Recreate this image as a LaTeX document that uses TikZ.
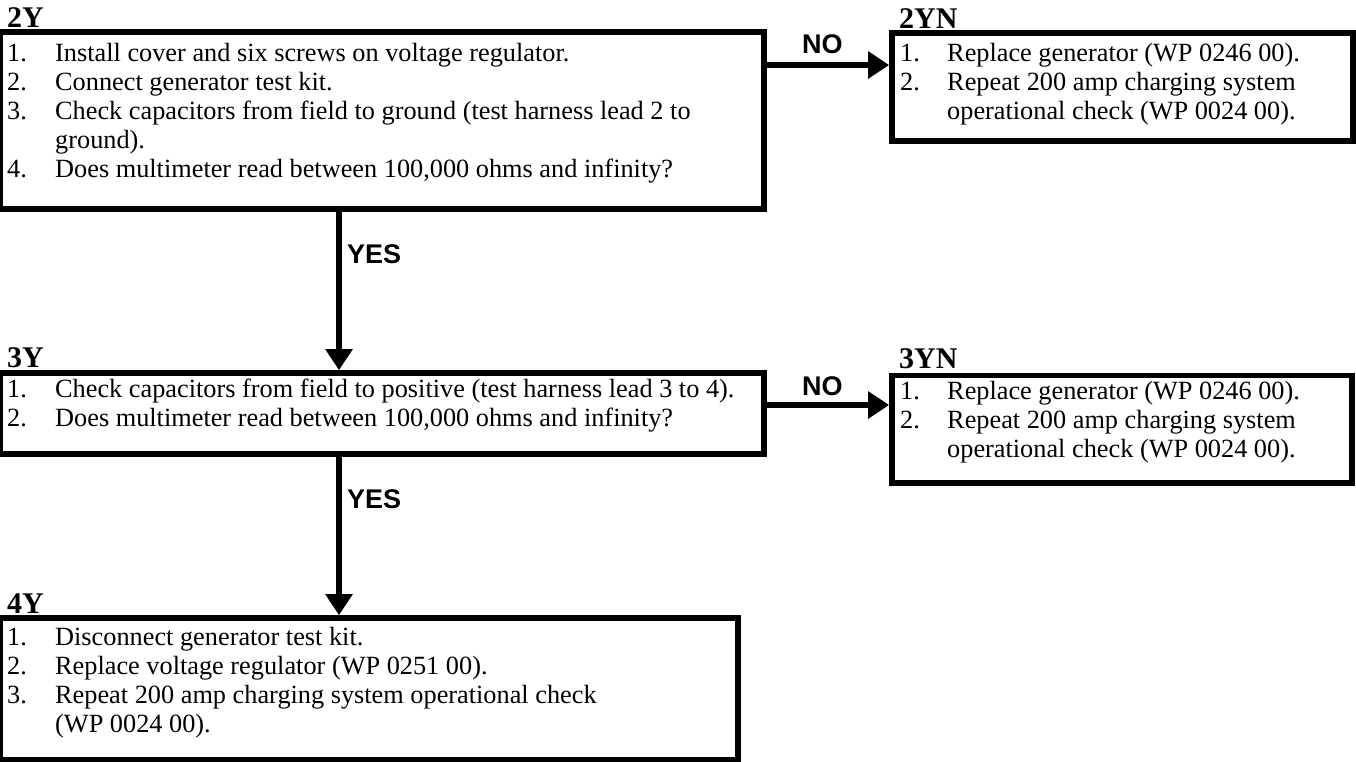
\documentclass[tikz,border=0pt]{standalone}
\usepackage{fontspec}
\setmainfont{Liberation Serif}
\newfontfamily\lblfont{Liberation Sans}
\usetikzlibrary{arrows.meta}
\begin{document}
\begin{tikzpicture}[x=1pt,y=-1pt,
  box/.style={draw, line width=5.6pt, inner sep=0pt},
  body/.style={inner sep=0pt, anchor=base west, font=\fontsize{26.3}{29}\selectfont},
  steptitle/.style={inner sep=0pt, anchor=base west, font=\fontsize{30}{36}\selectfont\bfseries},
  lbl/.style={inner sep=0pt, anchor=base west, font=\lblfont\fontsize{27}{32}\selectfont\bfseries},
  arr/.style={line width=5.6pt, -{Triangle[length=21pt,width=26pt]}}]
\useasboundingbox (0,0) rectangle (1356,761);

% boxes
\node[box, minimum width=763.5pt, minimum height=177pt] (b2Y) at (382.25,120.5) {};
\node[box, minimum width=461pt, minimum height=108pt] (b2YN) at (1122.5,87) {};
\node[box, minimum width=763.5pt, minimum height=81pt] (b3Y) at (382.25,413.5) {};
\node[box, minimum width=460pt, minimum height=107.5pt] (b3YN) at (1122,429.25) {};
\node[box, minimum width=737.5pt, minimum height=141.5pt] (b4Y) at (369.25,688.75) {};

% titles
\node[steptitle] (h2Y) at (7,27) {2Y};
\node[steptitle] (h2YN) at (899,28) {2YN};
\node[steptitle] (h3Y) at (7,367) {3Y};
\node[steptitle] (h3YN) at (899,368) {3YN};
\node[steptitle] (h4Y) at (7,613) {4Y};

% texts
\node[body] (t2Y) at (7,61) {\begin{tabular}[t]{@{}p{48pt}@{}l@{}}
1. & Install cover and six screws on voltage regulator.\\
2. & Connect generator test kit.\\
3. & Check capacitors from field to ground (test harness lead 2 to\\
   & ground).\\
4. & Does multimeter read between 100,000 ohms and infinity?
\end{tabular}};
\node[body] (t2YN) at (900,61) {\begin{tabular}[t]{@{}p{47pt}@{}l@{}}
1. & Replace generator (WP 0246 00).\\
2. & Repeat 200 amp charging system\\
   & operational check (WP 0024 00).
\end{tabular}};
\node[body] (t3Y) at (7,397) {\begin{tabular}[t]{@{}p{48pt}@{}l@{}}
1. & Check capacitors from field to positive (test harness lead 3 to 4).\\
2. & Does multimeter read between 100,000 ohms and infinity?
\end{tabular}};
\node[body] (t3YN) at (900,399) {\begin{tabular}[t]{@{}p{47pt}@{}l@{}}
1. & Replace generator (WP 0246 00).\\
2. & Repeat 200 amp charging system\\
   & operational check (WP 0024 00).
\end{tabular}};
\node[body] (t4Y) at (7,645) {\begin{tabular}[t]{@{}p{48pt}@{}l@{}}
1. & Disconnect generator test kit.\\
2. & Replace voltage regulator (WP 0251 00).\\
3. & Repeat 200 amp charging system operational check\\
   & (WP 0024 00).
\end{tabular}};

% connectors
\draw[arr] (b2Y.east |- 0,65) -- (b2YN.west |- 0,65);
\draw[arr] (b2Y.south -| 339,0) -- (b3Y.north -| 339,0);
\draw[arr] (b3Y.east |- 0,405) -- (b3YN.west |- 0,405);
\draw[arr] (b3Y.south -| 339,0) -- (b4Y.north -| 339,0);

% connector labels
\node[lbl] (n1) at (802,53) {NO};
\node[lbl] (y1) at (347,263) {YES};
\node[lbl] (n2) at (802,395) {NO};
\node[lbl] (y2) at (347,508) {YES};
\end{tikzpicture}
\end{document}
